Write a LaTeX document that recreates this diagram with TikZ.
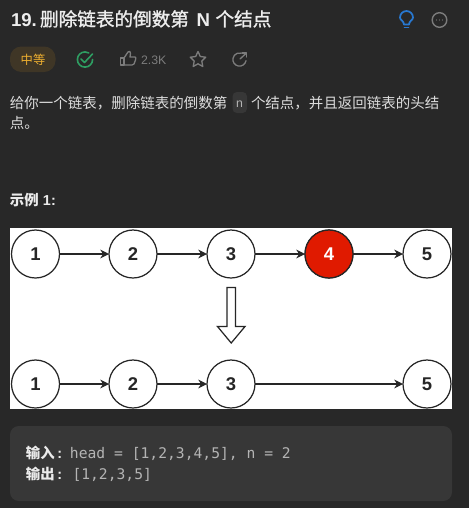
\documentclass[tikz,border=0pt]{standalone}
\usepackage{fontspec}
\usepackage{tikz}
\usetikzlibrary{arrows.meta}
\setmainfont{Liberation Sans}
\newfontfamily\cjk{Noto Sans CJK SC}
\newfontfamily\cjktitle[FakeBold=1.2]{Noto Sans CJK SC}
\setmonofont{DejaVu Sans Mono}
\definecolor{pagebg}{HTML}{282828}
\definecolor{codebg}{HTML}{373737}
\definecolor{bodytxt}{HTML}{DDDDDD}
\definecolor{icongray}{HTML}{7C7C7C}
\definecolor{codetxt}{HTML}{B4B4B4}
\definecolor{hardbg}{HTML}{3F3626}
\definecolor{hardtxt}{HTML}{EFB030}
\definecolor{donegreen}{HTML}{2E9E62}
\definecolor{bulbblue}{HTML}{2878D0}
\definecolor{nodered}{HTML}{E01A00}
\tikzset{
	every node/.style={inner sep=0pt,outer sep=0pt},
	listnode/.style={circle,draw=black!85,line width=0.7pt,fill=white,minimum size=0.96cm,font=\bfseries\fontsize{10.5}{10.5}\selectfont,text=black!85},
	listarrow/.style={-{Stealth[length=5pt,width=5pt]},draw=black!85,line width=0.65pt},
	icon/.style={draw=icongray,line width=0.75pt,line join=round,line cap=round},
	titletext/.style={anchor=base west,text=white!93!black,font=\bfseries\fontsize{10.6}{10.6}\selectfont},
	titlecjk/.style={anchor=base west,text=white!93!black,font=\cjktitle\fontsize{10.6}{10.6}\selectfont},
	bodytext/.style={anchor=base west,text=bodytxt,font=\cjk\fontsize{8.25}{8.25}\selectfont},
	labeltext/.style={anchor=base west,text=white!92!black,font=\cjk\bfseries\fontsize{8.2}{8.2}\selectfont},
	colontext/.style={anchor=base west,text=white!92!black,font=\bfseries\fontsize{8.2}{8.2}\selectfont},
	codetext/.style={anchor=base west,text=codetxt,font=\ttfamily\fontsize{8.35}{8.35}\selectfont}
}
\begin{document}
\begin{tikzpicture}[x=0.02cm,y=-0.02cm]

	% Page and panels
	\fill[pagebg] (0,0) rectangle (469,508);
	\fill[white] (10,228) rectangle (452,409);
	\fill[codebg,rounded corners=5pt] (10,426) rectangle (452,501);
	
	% Title line
	\node[titletext] (titlenum) at (11,26) {19.};
	\node[titlecjk] (title) at (40,26) {删除链表的倒数第};
	\node[titletext] (titlen) at (196.5,26) {N};
	\node[titlecjk] (titleend) at (215.5,26) {个结点};
	
	% Title icons
	\draw[bulbblue,line width=1pt,line join=round] (404,24.5) .. controls (404,21) and (400,20) .. (400,17.5) arc(180:360:6.5) .. controls (413,20) and (409,21) .. (409,24.5) -- cycle;
	\draw[bulbblue,line width=1pt,line cap=round] (404.5,27.5) -- (408.5,27.5);
	\draw[icongray,line width=0.8pt] (439.5,20) circle (7.3);
	\foreach \x in {436.5,439.5,442.5}
		\fill[icongray] (\x,20) circle (0.7);
	
	% Badge row
	\fill[hardbg,rounded corners=6.5pt] (10,46.5) rectangle (55.5,72);
	\node[text=hardtxt,font=\cjk\fontsize{7}{7}\selectfont] (level) at (33,59.5) {中等};
	\draw[donegreen,line width=0.9pt,line cap=round] ([shift={(0:7.6)}] 85,59.5) arc(0:300:7.6);
	\draw[donegreen,line width=0.9pt,line cap=round,line join=round] (81,59) -- (84.5,62.5) -- (92.5,54);
	\draw[icon] (120.5,58) -- (120.5,65) -- (124,65) -- (124,58) -- cycle;
	\draw[icon] (124,58) -- (128,52) .. controls (129,50.5) and (131,51.5) .. (130.5,53.5) -- (130,57) -- (135,57) .. controls (136,57) and (136,58.5) .. (135.5,60) -- (134,64) .. controls (133.5,65) and (133,65) .. (132,65) -- (124,65);
	\node[anchor=base west,text=icongray,font=\fontsize{7}{7}\selectfont] (likes) at (141,64) {2.3K};
	\draw[icon] (198,51.5) -- (200.3,56.5) -- (205.7,57.2) -- (201.8,61) -- (202.8,66.5) -- (198,63.8) -- (193.2,66.5) -- (194.2,61) -- (190.3,57.2) -- (195.7,56.5) -- cycle;
	\draw[icon] ([shift={(10:6.6)}] 239.5,59.5) arc(10:285:6.6);
	\draw[icon] (240,59) -- (246.5,53);
	\draw[icon] (242,53) -- (246.5,53) -- (246.5,57);
	
	% Description
	\node[bodytext] (descone) at (10,108) {给你一个链表，删除链表的倒数第};
	\fill[codebg,rounded corners=2.5pt] (232.5,92) rectangle (247,113);
	\node[text=codetxt,font=\fontsize{7}{7}\selectfont] (descn) at (239.5,104) {n};
	\node[bodytext] (desctwo) at (251,108) {个结点，并且返回链表的头结};
	\node[bodytext] (descthree) at (10,128.5) {点。};
	\node[labeltext] (example) at (10,205.5) {示例};
	\node[colontext] (examplenum) at (43,205.5) {1:};
	
	% Upper list
	\foreach \n/\x in {1/35.5,2/133,3/231,4/329,5/427}
		\node[listnode] (up\n) at (\x,254) {\n};
	\node[listnode,fill=nodered,text=white] (up4) at (329,254) {4};
	\foreach \a/\b in {1/2,2/3,3/4,4/5}
		\draw[listarrow] (up\a) -- (up\b);
	
	% Big arrow
	\draw[black!85,line width=0.7pt,fill=white] (227,287.5) -- (235.5,287.5) -- (235.5,326.5) -- (245,326.5) -- (231.2,343) -- (217.5,326.5) -- (227,326.5) -- cycle;
	
	% Lower list
	\foreach \n/\x in {1/35.5,2/133,3/231,5/427}
		\node[listnode] (low\n) at (\x,384) {\n};
	\foreach \a/\b in {1/2,2/3,3/5}
		\draw[listarrow] (low\a) -- (low\b);
	
	% Example box
	\node[labeltext] (inlabel) at (26,458) {输入};
	\node[colontext] (incolon) at (57.5,458) {:};
	\node[codetext] (incode) at (70,458) {head = [1,2,3,4,5], n = 2};
	\node[labeltext] (outlabel) at (26,479.5) {输出};
	\node[colontext] (outcolon) at (57.5,479.5) {:};
	\node[codetext] (outcode) at (72.5,479.5) {[1,2,3,5]};
	
\end{tikzpicture}
\end{document}
